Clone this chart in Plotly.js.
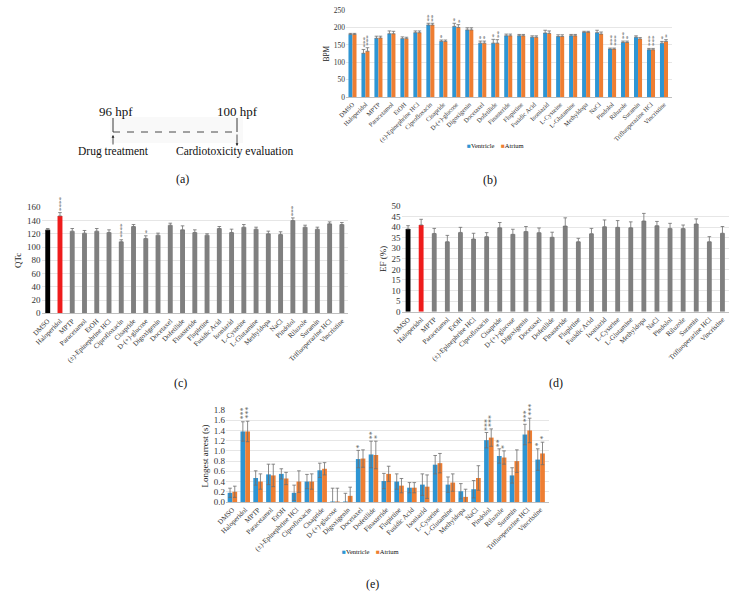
<!DOCTYPE html>
<html>
<head>
<meta charset="utf-8">
<script src="https://cdn.plot.ly/plotly-3.0.1.min.js"></script>
<style>html,body{margin:0;padding:0;background:#fff;}#chart{width:740px;height:607px;}</style>
</head>
<body>
<div id="chart"></div>
<script>
// ---------- data ----------
const categories = ['DMSO','Haloperidol','MPTP','Paracetamol','EtOH','(±)-Epinephrine HCl','Ciprofloxacin','Cisapride','D-(+)-glucose','Digoxigenin','Docetaxel','Dofetilide','Finasteride','Flupirtine','Fusidic Acid','Isoniazid','L-Cysteine','L-Glutamine','Methyldopa','NaCl','Pindolol','Riluzole','Suramin','Trifluoperazine HCl','Vincristine'];

// (b) heart rate, BPM
const bpmVentricle    = [180,126,169,182,168,185,207,160,203,193,155,155,176,176,172,184,174,176,186,185,138,157,172,136,155];
const bpmVentricleErr = [3,11,6,8,5,5,5,4,9,6,6,11,5,4,4,8,5,4,3,7,3,4,4,4,5];
const bpmAtrium       = [180,132,170,182,168,185,207,160,200,193,155,155,176,176,172,183,174,176,186,181,138,157,167,136,160];
const bpmAtriumErr    = [3,10,5,7,4,5,5,4,8,6,6,10,5,4,4,7,5,4,3,6,3,4,4,4,5];
const bpmSigVentricle = [0,3,0,0,0,0,2,1,1,0,1,1,0,0,0,0,0,0,0,0,3,2,0,3,1];
const bpmSigAtrium    = [0,3,0,0,0,0,2,0,1,0,1,2,0,0,0,0,0,0,0,0,3,1,0,3,1];

// (c) QTc
const qtc    = [126,147,124,121,124,122,108,131,113,118,133,126,122,118,128,122,130,127,120,119,140,130,127,135,134];
const qtcErr = [2,5,4,4,4,4,3,3,4,3,3,6,4,2,3,5,4,3,4,4,4,3,3,3,3];
const qtcSig = [0,4,0,0,0,0,4,0,1,0,0,0,0,0,0,0,0,0,0,0,3,0,0,0,0];

// (d) EF (%)
const ef    = [39.1,41.0,37.0,33.1,37.5,34.4,35.5,39.7,36.6,37.9,37.4,35.2,40.5,33.1,36.9,40.2,39.9,39.7,42.9,40.7,39.4,39.3,41.5,33.1,37.1];
const efErr = [1.6,2.7,2.4,3.0,2.4,2.7,1.9,2.5,2.4,2.4,2.2,2.4,3.9,1.6,2.5,3.2,3.2,2.8,3.6,2.0,2.4,1.7,2.4,2.4,3.2];

// (e) longest arrest (s)
const arrestVentricle    = [0.18,1.38,0.47,0.54,0.55,0.18,0.40,0.62,0.01,0.01,0.84,0.93,0.41,0.40,0.28,0.34,0.73,0.34,0.21,0.25,1.21,0.90,0.52,1.32,0.83];
const arrestVentricleErr = [0.09,0.19,0.14,0.20,0.10,0.15,0.14,0.14,0.26,0.16,0.17,0.26,0.15,0.15,0.10,0.21,0.18,0.15,0.15,0.17,0.15,0.14,0.15,0.20,0.21];
const arrestAtrium       = [0.20,1.38,0.40,0.52,0.46,0.40,0.40,0.65,0.01,0.12,0.85,0.92,0.55,0.32,0.28,0.30,0.76,0.38,0.10,0.47,1.26,0.87,0.80,1.40,0.95];
const arrestAtriumErr    = [0.11,0.20,0.15,0.22,0.12,0.21,0.15,0.12,0.26,0.17,0.17,0.27,0.15,0.14,0.10,0.23,0.19,0.17,0.15,0.24,0.17,0.13,0.22,0.24,0.22];
const arrestSigVentricle = [0,3,0,0,0,0,0,0,0,0,1,2,0,0,0,0,0,0,0,0,3,2,0,3,1];
const arrestSigAtrium    = [0,3,0,0,0,0,0,0,0,0,0,1,0,0,0,0,0,0,0,0,3,1,0,3,1];

const seriesNames = ['Ventricle','Atrium'];

// ---------- style ----------
const FONT = 'Liberation Serif, Times New Roman, serif';
const BLUE = '#2e95d3', ORANGE = '#ee7e32', GRAY = '#7f7f7f', ERR = '#6f6f6f';
const singleColors = categories.map(c => c === 'DMSO' ? '#000000' : (c === 'Haloperidol' ? '#ee1c1c' : GRAY));

function errBar(arr, sym) {
  return sym ? {type:'data', array:arr, symmetric:true, color:ERR, thickness:0.8, width:1.8}
             : {type:'data', array:arr, arrayminus:arr.map(()=>0), symmetric:false, color:ERR, thickness:0.8, width:1.8};
}

const traces = [];
// (b)
traces.push({type:'bar', x:categories, y:bpmVentricle, name:seriesNames[0], xaxis:'x', yaxis:'y', marker:{color:BLUE}, width:0.31, offset:-0.31, error_y:errBar(bpmVentricleErr,false)});
traces.push({type:'bar', x:categories, y:bpmAtrium, name:seriesNames[1], xaxis:'x', yaxis:'y', marker:{color:ORANGE}, width:0.31, offset:0, error_y:errBar(bpmAtriumErr,false)});
// (c)
traces.push({type:'bar', x:categories, y:qtc, xaxis:'x2', yaxis:'y2', marker:{color:singleColors}, width:0.4, offset:-0.2, error_y:errBar(qtcErr,false)});
// (d)
traces.push({type:'bar', x:categories, y:ef, xaxis:'x3', yaxis:'y3', marker:{color:singleColors}, width:0.37, offset:-0.185, error_y:errBar(efErr,false)});
// (e)
traces.push({type:'bar', x:categories, y:arrestVentricle, name:seriesNames[0], xaxis:'x4', yaxis:'y4', marker:{color:BLUE}, width:0.37, offset:-0.37, error_y:errBar(arrestVentricleErr,true)});
traces.push({type:'bar', x:categories, y:arrestAtrium, name:seriesNames[1], xaxis:'x4', yaxis:'y4', marker:{color:ORANGE}, width:0.37, offset:0, error_y:errBar(arrestAtriumErr,true)});
traces.forEach(t => t.showlegend = false);

// ---------- annotations ----------
const ann = [];
// significance stars: one vertical column of asterisks per bar
function stars(vals, errs, sig, xref, yref, shift, size) {
  sig.forEach((n, i) => {
    if (!n) return;
    ann.push({x: i + shift, y: vals[i] + errs[i], xref, yref, text:'*'.repeat(n), textangle:-90, showarrow:false,
      xanchor:'center', yanchor:'bottom', yshift:1, xshift:1, borderpad:0, font:{family:FONT, size, color:'#555'}});
  });
}
stars(bpmVentricle, bpmVentricleErr, bpmSigVentricle, 'x', 'y', -0.155, 7);
stars(bpmAtrium, bpmAtriumErr, bpmSigAtrium, 'x', 'y', 0.155, 7);
stars(qtc, qtcErr, qtcSig, 'x2', 'y2', 0, 7);
stars(arrestVentricle, arrestVentricleErr, arrestSigVentricle, 'x4', 'y4', -0.185, 8);
stars(arrestAtrium, arrestAtriumErr, arrestSigAtrium, 'x4', 'y4', 0.185, 8);

const W = 740, H = 607;
const px = x => x / W, py = y => 1 - y / H;
function txt(text, x, y, size, extra) {
  ann.push(Object.assign({text, x:px(x), y:py(y), xref:'paper', yref:'paper', showarrow:false,
    xanchor:'center', yanchor:'middle', font:{family:FONT, size, color:'#111'}}, extra||{}));
}
// panel (a)
txt('96 hpf', 116, 112, 13);
txt('100 hpf', 237, 112, 13);
txt('Drug treatment', 113, 152, 11.5);
txt('Cardiotoxicity evaluation', 235, 152, 11.5);
ann.push({x:px(113), y:py(135), xref:'paper', yref:'paper', ax:0, ay:11, text:'', showarrow:true, arrowhead:2, arrowsize:0.7, arrowwidth:0.8, arrowcolor:'#222'});
ann.push({x:px(237), y:py(146), xref:'paper', yref:'paper', ax:0, ay:-13, text:'', showarrow:true, arrowhead:2, arrowsize:0.7, arrowwidth:0.8, arrowcolor:'#222'});
// captions
txt('(a)', 182, 179, 12);
txt('(b)', 490, 180, 12);
txt('(c)', 180, 383, 12);
txt('(d)', 556, 383, 12);
txt('(e)', 372, 584, 12);
// legends
const legendText = `<span style="color:${BLUE}">■</span>${seriesNames[0]}    <span style="color:${ORANGE}">■</span>${seriesNames[1]}`;
txt(legendText, 495, 145, 6.5);
txt(legendText, 370, 551, 6.5);

const shapes = [
  {type:'rect', xref:'paper', yref:'paper', x0:px(110), x1:px(243), y0:py(143), y1:py(117), fillcolor:'#f9f9f9', line:{width:0}, layer:'below'},
  {type:'line', xref:'paper', yref:'paper', x0:px(113), x1:px(113), y0:py(118), y1:py(132), line:{color:'#222', width:0.9}},
  {type:'line', xref:'paper', yref:'paper', x0:px(237), x1:px(237), y0:py(118), y1:py(132), line:{color:'#222', width:0.9}},
  {type:'line', xref:'paper', yref:'paper', x0:px(113), x1:px(237), y0:py(132), y1:py(132), line:{color:'#333', width:0.9, dash:'7px,7px'}}
];

function xax(domain, anchor, size) {
  return {domain, anchor, type:'category', showgrid:false, showline:true, linecolor:'#bfbfbf', linewidth:1,
    ticks:'', tickangle:-45, tickfont:{family:FONT, size, color:'#333'}, automargin:false, fixedrange:true};
}
function yax(domain, anchor, range, dtick, title, size, fmt) {
  return {domain, anchor, range, dtick, tick0:0, showgrid:true, gridcolor:'#dcdcdc', gridwidth:0.7, zeroline:false,
    showline:false, ticks:'', tickfont:{family:FONT, size, color:'#333'}, tickformat:fmt||'',
    title:{text:title, font:{family:FONT, size:size, color:'#222'}, standoff:3}, automargin:false, fixedrange:true};
}

const layout = {
  width:W, height:H, margin:{l:0, r:0, t:0, b:0}, paper_bgcolor:'#fff', plot_bgcolor:'rgba(0,0,0,0)',
  showlegend:false, barmode:'overlay', font:{family:FONT},
  xaxis:  xax([px(346), px(672)], 'y', 6.4),
  yaxis:  yax([py(97.3), py(10)], 'x', [0,250], 50, 'BPM', 7.5),
  xaxis2: xax([px(41.6), px(348)], 'y2', 7),
  yaxis2: yax([py(313.3), py(207.3)], 'x2', [0,160], 20, 'QTc', 9),
  xaxis3: xax([px(401.5), px(729)], 'y3', 7),
  yaxis3: yax([py(311.7), py(206)], 'x3', [0,50], 5, 'EF (%)', 9),
  xaxis4: xax([px(226), px(549)], 'y4', 7),
  yaxis4: yax([py(502), py(410)], 'x4', [0,1.8], 0.2, 'Longest arrest (s)', 9, '.1f'),
  annotations: ann, shapes
};
Plotly.newPlot('chart', traces, layout, {staticPlot:true, displayModeBar:false});
</script>
</body>
</html>
